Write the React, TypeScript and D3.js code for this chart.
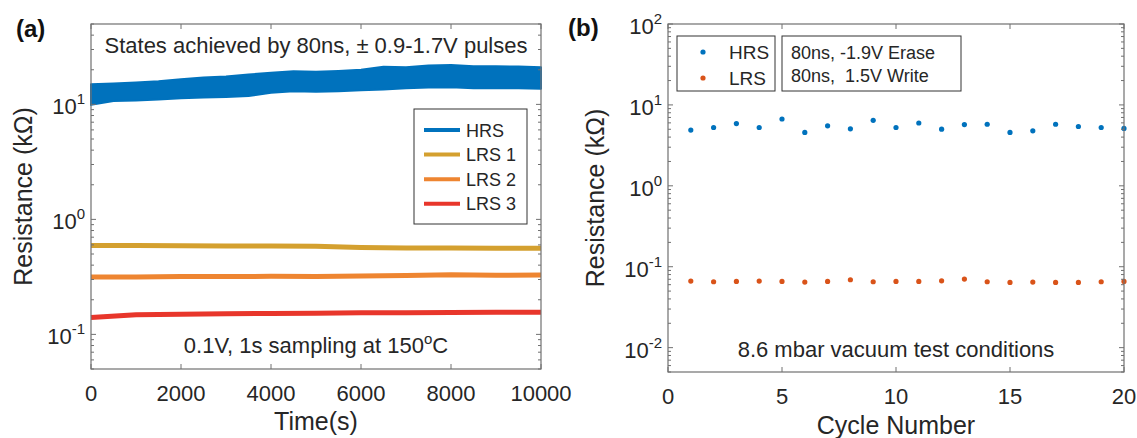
import React from "react";
import * as d3 from "d3";

const FONT = "'Liberation Sans', Arial, Helvetica, sans-serif";
const TEXT = "#262626";
const AXIS = "#707070";

// (a) retention at 150C
const timeTicks = [0, 2000, 4000, 6000, 8000, 10000];
const hrsTime = [0, 500, 1000, 1500, 2000, 2500, 3000, 3500, 4000, 4500, 5000, 5500, 6000, 6500, 7000, 7500, 8000, 8500, 9000, 9500, 10000];
const hrsUpper = [15.0, 15.2, 15.5, 15.9, 16.5, 17.1, 17.5, 18.2, 18.8, 19.4, 19.2, 19.5, 20.0, 21.2, 21.0, 21.8, 22.0, 21.5, 21.5, 21.3, 21.0];
const hrsLower = [9.9, 10.7, 10.8, 11.0, 11.3, 11.5, 11.6, 11.8, 12.6, 13.0, 12.9, 13.0, 13.3, 13.5, 13.8, 14.0, 14.1, 13.8, 13.9, 13.8, 13.7];
const lrsTime = [0, 1000, 2000, 3000, 4000, 5000, 6000, 7000, 8000, 9000, 10000];
const lrs1 = [0.594, 0.592, 0.59, 0.588, 0.588, 0.585, 0.57, 0.565, 0.565, 0.562, 0.56];
const lrs2 = [0.315, 0.316, 0.318, 0.318, 0.32, 0.319, 0.322, 0.325, 0.33, 0.327, 0.328];
const lrs3 = [0.14, 0.148, 0.15, 0.151, 0.152, 0.153, 0.154, 0.154, 0.155, 0.156, 0.156];
const retentionNames = ["HRS", "LRS 1", "LRS 2", "LRS 3"];
const retentionColors = ["#0072BD", "#D4A02F", "#EE8531", "#E8362B"];
const decadesA = [-1, 0, 1];

// (b) endurance in vacuum
const cycles = [1, 2, 3, 4, 5, 6, 7, 8, 9, 10, 11, 12, 13, 14, 15, 16, 17, 18, 19, 20];
const hrsCycle = [4.88, 5.26, 5.88, 5.26, 6.7, 4.57, 5.51, 5.06, 6.45, 5.26, 5.98, 5.01, 5.71, 5.77, 4.57, 4.79, 5.77, 5.41, 5.26, 5.12];
const lrsCycle = [0.0664, 0.0652, 0.0658, 0.0664, 0.0658, 0.0646, 0.0658, 0.069, 0.0652, 0.0658, 0.0658, 0.067, 0.0703, 0.0652, 0.064, 0.0646, 0.064, 0.064, 0.0652, 0.0658];
const cycleTicks = [0, 5, 10, 15, 20];
const decadesB = [-2, -1, 0, 1, 2];
const cycleNames = ["HRS", "LRS"];
const cycleColors = ["#0072BD", "#D95319"];
const pulseNotes = ["80ns, -1.9V Erase", "80ns,  1.5V Write"];

type FrameProps = {
  x: d3.ScaleLinear<number, number>;
  y: d3.ScaleLogarithmic<number, number>;
  xTicks: number[];
  decades: number[];
  xLabel: string;
  xLabelY: number;
  yLabelX: number;
};

const Frame = ({ x, y, xTicks, decades, xLabel, xLabelY, yLabelX }: FrameProps) => {
  const [left, right] = x.range();
  const [bottom, top] = y.range();
  const isMajor = (v: number) => decades.some((e) => Math.abs(Math.log10(v) - e) < 1e-6);
  const minor = y.ticks().filter((v) => !isMajor(v));
  const major = 5;
  const small = 3;
  return (
    <g>
      <rect x={left} y={top} width={right - left} height={bottom - top} fill="none" stroke={AXIS} strokeWidth={1.2} />
      {xTicks.map((t) => (
        <g key={"x" + t}>
          <line x1={x(t)} x2={x(t)} y1={bottom} y2={bottom - major} stroke={AXIS} />
          <line x1={x(t)} x2={x(t)} y1={top} y2={top + major} stroke={AXIS} />
          <text x={x(t)} y={bottom + 32} textAnchor="middle" fontSize={22} fill={TEXT}>
            {t}
          </text>
        </g>
      ))}
      {decades.map((e) => (
        <g key={"d" + e}>
          <line x1={left} x2={left + major} y1={y(10 ** e)} y2={y(10 ** e)} stroke={AXIS} />
          <line x1={right} x2={right - major} y1={y(10 ** e)} y2={y(10 ** e)} stroke={AXIS} />
          <text x={left - 6} y={y(10 ** e) + 10} textAnchor="end" fontSize={22} fill={TEXT}>
            10
            <tspan dy={-10} fontSize={15}>
              {e}
            </tspan>
          </text>
        </g>
      ))}
      {minor.map((v) => (
        <g key={"m" + v}>
          <line x1={left} x2={left + small} y1={y(v)} y2={y(v)} stroke={AXIS} />
          <line x1={right} x2={right - small} y1={y(v)} y2={y(v)} stroke={AXIS} />
        </g>
      ))}
      <text x={(left + right) / 2} y={xLabelY} textAnchor="middle" fontSize={25} fill={TEXT}>
        {xLabel}
      </text>
      <text
        transform={`translate(${yLabelX},${(top + bottom) / 2}) rotate(-90)`}
        textAnchor="middle"
        fontSize={25}
        fill={TEXT}
      >
        Resistance (kΩ)
      </text>
    </g>
  );
};

const Retention = () => {
  const x = d3.scaleLinear().domain([0, 10000]).range([91, 541]);
  const y = d3.scaleLog().domain([0.05, 50]).range([369, 24]);
  const band = d3
    .area<number>()
    .x((_, i) => x(hrsTime[i]))
    .y0((_, i) => y(hrsLower[i]))
    .y1((_, i) => y(hrsUpper[i]));
  const line = d3
    .line<number>()
    .x((_, i) => x(lrsTime[i]))
    .y((d) => y(d));
  const lrs = [lrs1, lrs2, lrs3];
  return (
    <g>
      <path d={band(hrsTime) ?? ""} fill={retentionColors[0]} stroke={retentionColors[0]} strokeWidth={2} strokeLinejoin="round" />
      {lrs.map((s, i) => (
        <path key={i} d={line(s) ?? ""} fill="none" stroke={retentionColors[i + 1]} strokeWidth={5} />
      ))}
      <Frame x={x} y={y} xTicks={timeTicks} decades={decadesA} xLabel="Time(s)" xLabelY={430} yLabelX={32} />
      <text x={316} y={53} textAnchor="middle" fontSize={22} fill={TEXT}>
        States achieved by 80ns, ± 0.9-1.7V pulses
      </text>
      <text x={316} y={353} textAnchor="middle" fontSize={22} fill={TEXT}>
        0.1V, 1s sampling at 150
        <tspan dy={-9} fontSize={15}>
          o
        </tspan>
        <tspan dy={9}>C</tspan>
      </text>
      <g>
        <rect x={414} y={109} width={113} height={115} fill="#fff" stroke="#333" strokeWidth={1} />
        {retentionNames.map((n, i) => (
          <g key={n} transform={`translate(0,${130 + i * 24.6})`}>
            <line x1={424} x2={460} stroke={retentionColors[i]} strokeWidth={4} />
            <text x={466} y={6.5} fontSize={18} fill={TEXT}>
              {n}
            </text>
          </g>
        ))}
      </g>
      <text x={16} y={37} fontSize={24} fontWeight="bold" fill="#111">
        (a)
      </text>
    </g>
  );
};

const Endurance = () => {
  const x = d3.scaleLinear().domain([0, 20]).range([668, 1124]);
  const y = d3.scaleLog().domain([0.005, 100]).range([372, 24]);
  const series = [hrsCycle, lrsCycle];
  return (
    <g>
      {series.map((s, k) =>
        s.map((v, i) => <circle key={k + "-" + i} cx={x(cycles[i])} cy={y(v)} r={2.6} fill={cycleColors[k]} />)
      )}
      <Frame x={x} y={y} xTicks={cycleTicks} decades={decadesB} xLabel="Cycle Number" xLabelY={434} yLabelX={604} />
      <text x={896} y={357} textAnchor="middle" fontSize={22} fill={TEXT}>
        8.6 mbar vacuum test conditions
      </text>
      <g>
        <rect x={677} y={36} width={98} height={55} fill="#fff" stroke="#333" strokeWidth={1} />
        {cycleNames.map((n, i) => (
          <g key={n} transform={`translate(0,${52 + i * 26})`}>
            <circle cx={703} cy={0} r={2.6} fill={cycleColors[i]} />
            <text x={729} y={7} fontSize={19} fill={TEXT}>
              {n}
            </text>
          </g>
        ))}
        <rect x={782} y={36} width={179} height={55} fill="#fff" stroke="#333" strokeWidth={1} />
        {pulseNotes.map((n, i) => (
          <text key={n} x={791} y={58.5 + i * 23.5} fontSize={18} fill={TEXT} style={{ whiteSpace: "pre" }}>
            {n}
          </text>
        ))}
      </g>
      <text x={568} y={36} fontSize={24} fontWeight="bold" fill="#111">
        (b)
      </text>
    </g>
  );
};

export default function App() {
  return (
    <svg
      width={1137}
      height={438}
      style={{ position: "absolute", left: 0, top: 0, background: "#fff" }}
      fontFamily={FONT}
    >
      <rect width={1137} height={438} fill="#fff" />
      <Retention />
      <Endurance />
    </svg>
  );
}
